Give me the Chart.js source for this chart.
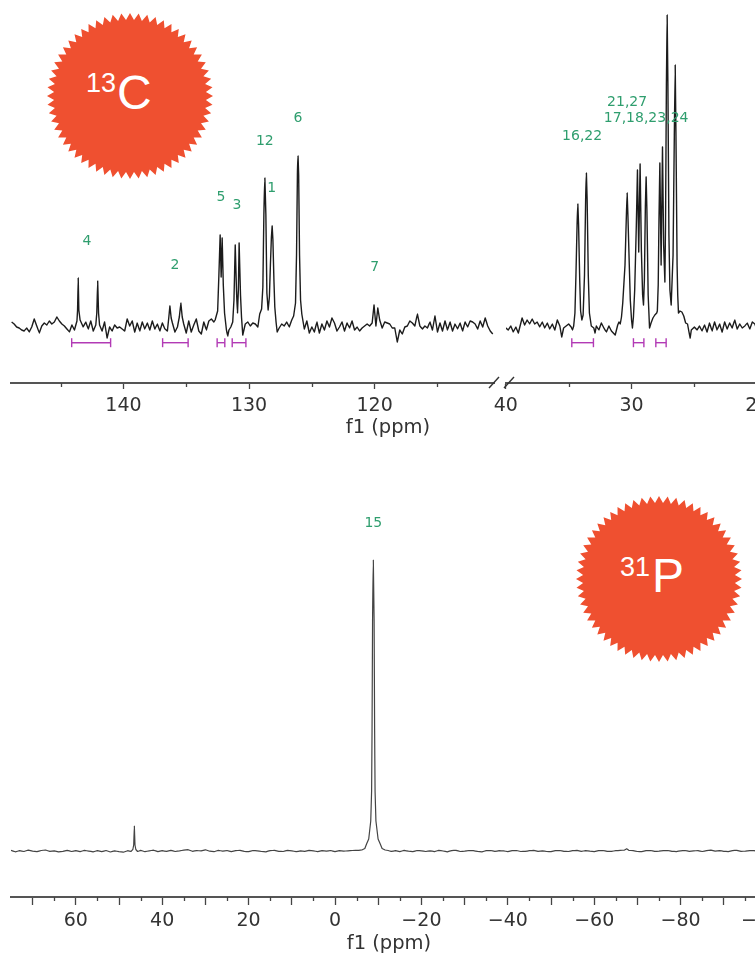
<!DOCTYPE html>
<html>
<head>
<meta charset="utf-8">
<script src="https://cdn.jsdelivr.net/npm/chart.js@4"></script>
<style>
html,body{margin:0;padding:0;background:#fff;width:755px;height:953px;overflow:hidden}
canvas{position:absolute;filter:blur(0.35px)}
.badge{position:absolute;width:166px;height:166px;background:#ef5030}
.badge span{position:absolute;color:#fff;font-family:"Liberation Sans",sans-serif;line-height:1}
.iso{font-size:27px}.el{font-size:48px}
</style>
</head>
<body>
<canvas id="cLeft" style="left:0;top:-20px"></canvas>
<canvas id="cRight" style="left:476px;top:-20px"></canvas>
<canvas id="cP" style="left:0;top:460px"></canvas>
<div class="badge" id="b13" style="left:47px;top:13px"><span class="iso" style="left:39px;top:57px">13</span><span class="el" style="left:70px;top:56px">C</span></div>
<div class="badge" id="b31" style="left:576px;top:496px"><span class="iso" style="left:44px;top:58px">31</span><span class="el" style="left:76px;top:56px">P</span></div>
<script>
// 13C spectrum, left part of the broken axis: [ppm, intensity]
const carbonLeft = [[148.9,3],[148.7,1],[148.5,-2],[148.3,-3],[148.1,-5],[147.9,-6],[147.7,-3],[147.5,-7],[147.3,-2],[147.1,6],[146.9,-1],[146.7,-8],[146.5,-1],[146.3,2],[146.1,0],[145.9,4],[145.7,1],[145.5,3],[145.3,8],[145.1,4],[144.9,1],[144.7,-1],[144.5,-4],[144.3,-7],[144.1,0],[143.9,-5],[143.7,4],[143.65,15],[143.6,47],[143.55,15],[143.45,5],[143.2,-2],[143,3],[142.8,-4],[142.6,4],[142.4,-6],[142.2,0],[142.12,12],[142.05,44],[141.98,12],[141.9,0],[141.7,-6],[141.5,3],[141.3,-13],[141.1,-2],[140.9,-6],[140.7,0],[140.5,-3],[140.3,-2],[140.1,-4],[139.9,-6],[139.7,6],[139.5,-1],[139.3,4],[139.1,-7],[138.9,2],[138.7,-6],[138.5,3],[138.3,-4],[138.1,2],[137.9,-5],[137.7,4],[137.5,-4],[137.3,1],[137.1,-6],[136.9,2],[136.7,-4],[136.5,-6],[136.4,6],[136.3,19],[136.2,7],[136.1,2],[135.9,-7],[135.7,-2],[135.55,8],[135.43,22],[135.32,8],[135.2,1],[135,-8],[134.8,4],[134.6,-7],[134.4,0],[134.2,6],[134,-6],[133.8,-9],[133.6,3],[133.4,-5],[133.2,4],[133,6],[132.8,3],[132.7,5],[132.5,14],[132.4,50],[132.3,90],[132.22,48],[132.14,87],[132.05,40],[131.95,12],[131.8,-5],[131.7,-11],[131.6,-5],[131.45,-2],[131.3,3],[131.2,25],[131.1,80],[131,35],[130.92,12],[130.85,35],[130.79,82],[130.68,30],[130.6,8],[130.5,-10],[130.3,1],[130.1,3],[129.9,-1],[129.7,2],[129.5,1],[129.3,-2],[129.15,11],[129,16],[128.9,38],[128.82,110],[128.74,147],[128.66,110],[128.58,32],[128.48,15],[128.38,28],[128.3,60],[128.22,88],[128.16,99],[128.1,85],[128.02,45],[127.95,18],[127.85,3],[127.76,-7],[127.6,-3],[127.4,1],[127.2,-1],[127,3],[126.8,-2],[126.6,5],[126.45,9],[126.3,22],[126.22,70],[126.15,150],[126.1,169],[126.05,150],[125.98,70],[125.9,25],[125.8,11],[125.6,-4],[125.4,4],[125.2,-8],[125,-2],[124.8,-7],[124.6,3],[124.4,-8],[124.2,1],[124,-5],[123.8,4],[123.6,-2],[123.4,7],[123.2,2],[123,-6],[122.8,-2],[122.6,3],[122.4,-6],[122.2,2],[122,-3],[121.8,4],[121.6,-5],[121.4,-2],[121.2,-6],[121,-3],[120.8,-1],[120.6,1],[120.4,-1],[120.2,2],[120.05,20],[119.9,-1],[119.75,17],[119.6,5],[119.4,-3],[119.2,3],[119,2],[118.8,1],[118.6,-3],[118.4,-3],[118.2,-17],[118,-5],[117.8,-9],[117.6,-2],[117.4,-1],[117.2,4],[117,2],[116.8,-1],[116.6,11],[116.4,-1],[116.2,-4],[116,-1],[115.8,-3],[115.6,3],[115.4,-5],[115.2,9],[115,-7],[114.8,2],[114.6,-6],[114.4,4],[114.2,-5],[114,3],[113.8,-6],[113.6,1],[113.4,-4],[113.2,2],[113,-6],[112.8,3],[112.6,-2],[112.4,4],[112.2,3],[112,1],[111.8,-4],[111.6,4],[111.4,-2],[111.2,7],[111,-1],[110.8,-6],[110.6,-9]];
// 13C spectrum, right part of the broken axis: [ppm, intensity]
const carbonRight = [[40,-3],[39.8,-5],[39.6,-1],[39.4,-7],[39.2,-2],[39,-8],[38.9,-3],[38.7,7],[38.5,0],[38.3,5],[38.1,1],[37.9,6],[37.7,1],[37.5,3],[37.3,-2],[37.1,3],[36.9,-3],[36.7,2],[36.5,-4],[36.3,1],[36.1,-5],[35.9,5],[35.7,-1],[35.55,-12],[35.4,-3],[35.2,-1],[35,1],[34.8,-2],[34.7,-5],[34.6,-1],[34.5,12],[34.42,50],[34.33,100],[34.27,121],[34.21,100],[34.12,45],[34.05,14],[33.95,5],[33.85,10],[33.74,50],[33.65,125],[33.59,152],[33.53,125],[33.44,50],[33.35,12],[33.2,-1],[33,-3],[32.9,-8],[32.8,-1],[32.6,-5],[32.4,2],[32.2,-3],[32,-7],[31.8,-1],[31.6,-6],[31.3,-10],[31.1,0],[31,3],[30.9,1],[30.8,8],[30.7,22],[30.52,60],[30.41,110],[30.35,132],[30.29,110],[30.18,60],[30.1,25],[30,5],[29.93,-3],[29.85,8],[29.75,35],[29.62,100],[29.53,155],[29.43,73],[29.32,161],[29.22,75],[29.12,30],[29.05,20],[28.98,45],[28.9,120],[28.84,148],[28.78,115],[28.68,30],[28.57,-3],[28.45,2],[28.3,7],[28.15,10],[28,12],[27.95,14],[27.88,40],[27.82,105],[27.75,162],[27.65,60],[27.54,178],[27.45,80],[27.35,43],[27.3,100],[27.23,240],[27.17,310],[27.11,240],[27.03,90],[26.95,35],[26.85,20],[26.7,70],[26.6,190],[26.53,260],[26.47,190],[26.38,60],[26.33,30],[26.27,12],[26.15,14],[26,13],[25.85,9],[25.7,2],[25.55,1],[25.45,-6],[25.34,-13],[25.25,-5],[25,-2],[24.8,-5],[24.6,-1],[24.4,-6],[24.2,0],[24,-7],[23.8,2],[23.6,-6],[23.4,3],[23.2,-5],[23,1],[22.8,-7],[22.6,3],[22.4,-4],[22.2,2],[22,-3],[21.8,5],[21.6,-4],[21.4,1],[21.2,-3],[21,-1],[20.8,2],[20.6,-4],[20.4,3],[20.2,1],[20,-6],[19.8,-3]];
// 31P spectrum: [ppm, intensity]
const phosphorus = [[75,0.6],[74,-0.8],[73,0.3],[72,-0.5],[71,0.9],[70,-0.2],[69,-0.7],[68,0.5],[67,1],[66,-0.4],[65,0.2],[64,-0.9],[63,-0.3],[62,0.7],[61,-0.5],[60,0.4],[59,-0.6],[58,0.6],[57,-0.1],[56,-0.8],[55,0.3],[54,-0.6],[53,0.5],[52,-1],[51,0.1],[50,-0.6],[49,-1.2],[48,0.3],[47.2,-0.4],[46.8,1.5],[46.6,6],[46.45,25],[46.3,6],[46.1,1.5],[45.7,-0.5],[45,0.6],[44,-0.7],[43,0.2],[42,0.8],[41,-0.6],[40,0.3],[39,-0.4],[38,0.7],[37,-0.5],[36,0.1],[35,0.9],[34,1.3],[33,-0.3],[32,0.4],[31,0.1],[30,1.2],[29,-0.2],[28,-0.7],[27,0.6],[26,-0.1],[25,0.5],[24,-0.6],[23,0.3],[22,0.7],[21,-0.4],[20,-0.7],[19,0.5],[18,0.1],[17,-0.5],[16,-0.8],[15,0.4],[14,0.6],[13,-0.3],[12,-0.5],[11,0.6],[10,0.2],[9,-0.7],[8,0.1],[7,-0.4],[6,0.6],[5,0.2],[4,-0.7],[3,0.4],[2,-0.2],[1,0.5],[0,-0.6],[-1,0.3],[-2,-0.2],[-3,0.2],[-4,0.5],[-5.5,0.6],[-6.2,1],[-6.9,2.5],[-7.3,7],[-7.8,12],[-8.27,30],[-8.47,60],[-8.57,120],[-8.69,230],[-8.87,291],[-9.05,230],[-9.17,120],[-9.27,60],[-9.47,30],[-9.97,12],[-10.47,7],[-10.9,2.5],[-11.6,1],[-12.3,0.5],[-13,-0.4],[-14,0.3],[-15,-0.6],[-16,0.6],[-17,-0.2],[-18,-0.7],[-19,0.5],[-20,0.2],[-21,-0.5],[-22,0.2],[-23,-0.6],[-24,0.6],[-25,0],[-26,-0.8],[-27,0.4],[-28,0.7],[-29,-0.5],[-30,-0.1],[-31,0.5],[-32,0.3],[-33,-0.4],[-34,-0.9],[-35,0.4],[-36,0.5],[-37,-0.4],[-38,0.3],[-39,0.1],[-40,-0.6],[-41,0.4],[-42,0.5],[-43,-0.5],[-44,-0.4],[-45,0.3],[-46,0.6],[-47,-0.3],[-48,0.2],[-49,-0.5],[-50,-0.7],[-51,0.4],[-52,0.5],[-53,-0.4],[-54,-0.5],[-55,0.3],[-56,0.6],[-57,-0.3],[-58,0.3],[-59,-0.2],[-60,-0.6],[-61,0.4],[-62,0.5],[-63,-0.4],[-64,-0.3],[-65,0.3],[-66,0.6],[-67,0.9],[-67.5,2.2],[-68,0.7],[-69,0.3],[-70,-0.5],[-71,-0.6],[-72,0.3],[-73,0.5],[-74,-0.4],[-75,-0.2],[-76,0.4],[-77,0.5],[-78,-0.3],[-79,-0.6],[-80,0.2],[-81,0.5],[-82,-0.4],[-83,0.1],[-84,0.4],[-85,-0.5],[-86,0.3],[-87,0.8],[-88,-0.2],[-89,0.4],[-90,-0.3],[-91,-0.6],[-92,0.4],[-93,0.7],[-94,-0.3],[-95,-0.2],[-96,0.4],[-97,0.3],[-98,-0.4],[-99,0.2]];

// integrals: [from ppm, to ppm] and the level they are drawn at
const integralsLeft = [[144.12,141.02],[136.88,134.85],[132.54,131.93],[131.34,130.25]];
const integralsRight = [[34.75,33.03],[29.85,29.02],[28.07,27.25]];
const integralLevel = -17.7;

// assignments: [text, ppm, height]
const peaksLeft = [['4',142.9,84],['2',135.9,59.5],['5',132.24,128],['3',130.97,120],['12',128.74,184],['1',128.2,137],['6',126.1,207],['7',120,58]];
const peaksRight = [['16,22',33.93,189],['21,27',30.35,223],['17,18,23,24',28.84,207]];
const peaksP = [['15',-8.87,328]];

// axis ticks
const ticksLeft = [145,140,135,130,125,120,115];
const ticksLeftLabelled = [140,130,120];
const ticksRight = [40,35,30,25,20];
const ticksRightLabelled = [40,30,20];
const ticksP = [70,65,60,55,50,45,40,35,30,25,20,15,10,5,0,-5,-10,-15,-20,-25,-30,-35,-40,-45,-50,-55,-60,-65,-70,-75,-80,-85,-90,-95,-100];
const ticksPLabelled = [60,40,20,0,-20,-40,-60,-80,-100];
const ticksPLong = [70,60,50,40,30,20,10,0,-10,-20,-30,-40,-50,-60,-70,-80,-90,-100];
const axisTitle = 'f1 (ppm)';

const FONT = '"DejaVu Sans",sans-serif';
const fmt = v => String(v).replace('-', '\u2212');

function notes(peaks, minor, title, extra){
  return {
    id:'notes',
    afterDraw(chart){
      const c = chart.ctx, xs = chart.scales.x, ys = chart.scales.y;
      c.save();
      c.strokeStyle = '#444'; c.lineWidth = 1.3;
      minor.forEach(v => {
        const p = Math.round(xs.getPixelForValue(v)) + 0.5;
        c.beginPath(); c.moveTo(p, chart.chartArea.bottom); c.lineTo(p, chart.chartArea.bottom + 4); c.stroke();
      });
      c.fillStyle = '#2f9e6e'; c.font = '14px ' + FONT; c.textAlign = 'center'; c.textBaseline = 'middle';
      peaks.forEach(([t, x, y]) => c.fillText(t, xs.getPixelForValue(x), ys.getPixelForValue(y)));
      if (title){
        c.fillStyle = '#333'; c.font = '19.5px ' + FONT; c.textBaseline = 'middle';
        c.fillText(axisTitle, title[0], title[1]);
      }
      if (extra) extra(c, chart);
      c.restore();
    }
  };
}

function spectrumChart(id, w, h, pad, xRange, yRange, spec){
  const el = document.getElementById(id);
  el.width = w; el.height = h; el.style.width = w + 'px'; el.style.height = h + 'px';
  const sets = [{
    data: spec.data.map(([x, y]) => ({x, y})),
    showLine: true, pointRadius: 0, borderColor: spec.color, borderWidth: spec.lw, tension: 0.001,
    borderJoinStyle: 'round'
  }];
  (spec.integrals || []).forEach(([a, b]) => sets.push({
    data: [{x:a, y:integralLevel}, {x:b, y:integralLevel}],
    showLine: true, borderColor: '#b23ab5', borderWidth: 1.4,
    pointStyle: 'line', pointRotation: 90, pointRadius: 4.5,
    pointBorderColor: '#b23ab5', pointBorderWidth: 1.4
  }));
  return new Chart(el, {
    type: 'scatter',
    data: {datasets: sets},
    options: {
      responsive: false, animation: false, devicePixelRatio: 1,
      layout: {padding: {left: pad[0], right: pad[1], top: 20, bottom: 0}},
      plugins: {legend: {display: false}, tooltip: {enabled: false}, title: {display: false}},
      scales: {
        x: {
          type: 'linear', reverse: true, min: xRange[0], max: xRange[1],
          afterBuildTicks: s => { s.ticks = spec.ticks.map(value => ({value})); },
          afterFit: s => { s.height = 60; },
          grid: {drawOnChartArea: false, tickLength: spec.tickLen, tickWidth: 1.3,
                 tickColor: c => spec.long.includes(c.tick && c.tick.value) ? '#444' : 'rgba(0,0,0,0)'},
          border: {display: true, color: '#555', width: 2},
          ticks: {
            autoSkip: false, maxRotation: 0, minRotation: 0, padding: spec.labelPad, color: '#333',
            font: {family: FONT, size: 19},
            callback: v => spec.labelled.includes(v) ? fmt(v) : ''
          }
        },
        y: {type: 'linear', display: false, min: yRange[0], max: yRange[1]}
      }
    },
    plugins: [notes(spec.peaks, spec.ticks.filter(v => !spec.long.includes(v)), spec.title, spec.extra)]
  });
}

spectrumChart('cLeft', 776, 463, [11, 282], [110.5, 148.95], [-58, 325], {
  data: carbonLeft, color: '#1c1c1c', lw: 1.4, integrals: integralsLeft, tickLen: 6, labelPad: 6,
  ticks: ticksLeft, labelled: ticksLeftLabelled, long: ticksLeftLabelled,
  peaks: peaksLeft, title: [388, 448]
});
spectrumChart('cRight', 344, 463, [30, 20], [16.61, 39.98], [-58, 325], {
  data: carbonRight, color: '#1c1c1c', lw: 1.4, integrals: integralsRight, tickLen: 6, labelPad: 6,
  ticks: ticksRight, labelled: ticksRightLabelled, long: ticksRightLabelled,
  peaks: peaksRight,
  extra: (c, chart) => {
    const y = chart.chartArea.bottom, x0 = chart.chartArea.left;
    c.strokeStyle = '#333'; c.lineWidth = 1.4;
    [-17, -2].forEach(o => {
      c.beginPath(); c.moveTo(x0 + o, y + 5); c.lineTo(x0 + o + 10, y - 6); c.stroke();
    });
  }
});
spectrumChart('cP', 800, 497, [11, 20], [-103, 75], [-46, 371], {
  data: phosphorus, color: '#444', lw: 1.2, integrals: [], tickLen: 8, labelPad: 5,
  ticks: ticksP, labelled: ticksPLabelled, long: ticksPLong,
  peaks: peaksP, title: [389, 484]
});

// starburst badges behind the isotope labels
['b13', 'b31'].forEach(id => {
  const pts = [], n = 60, R = 83, r = 76;
  for (let i = 0; i < n * 2; i++){
    const a = Math.PI * i / n, q = i % 2 ? r : R;
    pts.push((83 + q * Math.cos(a)).toFixed(1) + 'px ' + (83 + q * Math.sin(a)).toFixed(1) + 'px');
  }
  document.getElementById(id).style.clipPath = 'polygon(' + pts.join(',') + ')';
});
</script>
</body>
</html>
